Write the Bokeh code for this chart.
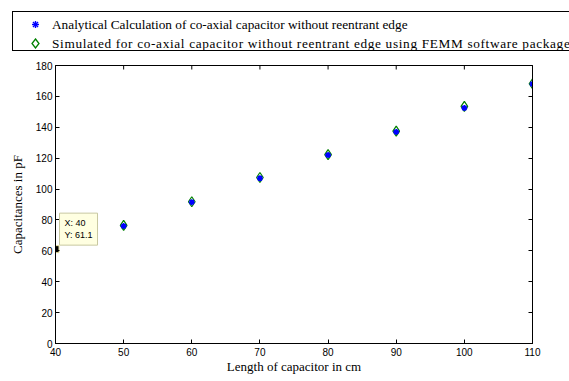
import math
from bokeh.plotting import figure
from bokeh.layouts import column
from bokeh.models import (ColumnDataSource, Range1d, LinearAxis, Label, FixedTicker, Div)
from bokeh.embed import file_html
from bokeh.resources import INLINE

# ---- data ----
lengths = [50, 60, 70, 80, 90, 100, 110]
analytical = [76.0, 91.5, 107.0, 122.0, 137.0, 152.5, 168.0]
simulated = [76.5, 91.8, 107.5, 122.3, 137.5, 153.5, 168.2]
tip_x = [40]
tip_y = [61.1]
x_ticks = [40, 50, 60, 70, 80, 90, 100, 110]
y_ticks = [0, 20, 40, 60, 80, 100, 120, 140, 160, 180]

label_a = "Analytical Calculation of co-axial capacitor without reentrant edge"
label_s = "Simulated for co-axial capacitor without reentrant edge using FEMM software package"

SERIF = "Liberation Serif"
SANS = "Liberation Sans"

X0, X1, Y0, Y1 = 40, 110, 0, 180
W = 569
TOP_H = 60
MAIN_H = 381 - TOP_H

# ---------------- main plot ----------------
p = figure(width=W, height=MAIN_H, output_backend="svg", toolbar_location=None,
           x_range=Range1d(X0, X1), y_range=Range1d(Y0, Y1),
           min_border_left=55, min_border_right=37, min_border_top=5,
           min_border_bottom=38)
p.background_fill_color = "white"
p.border_fill_color = "white"
p.outline_line_color = "black"
p.outline_line_width = 1
p.xgrid.visible = False
p.ygrid.visible = False

def style_axis(ax, show_labels=True):
    ax.axis_line_color = "black"
    ax.major_tick_in = 4
    ax.major_tick_out = 0
    ax.minor_tick_line_color = None
    ax.major_tick_line_color = "black"
    ax.major_label_text_font = SANS
    ax.major_label_text_font_size = "10px"
    ax.major_label_text_color = "black"
    ax.major_label_standoff = 3
    if not show_labels:
        ax.major_label_text_color = None
        ax.major_label_text_font_size = "1px"
        ax.major_label_standoff = 0

p.xaxis.ticker = FixedTicker(ticks=x_ticks)
p.yaxis.ticker = FixedTicker(ticks=y_ticks)
style_axis(p.xaxis[0])
style_axis(p.yaxis[0])
p.xaxis.major_label_standoff = 4
p.xaxis.axis_label = "Length of capacitor in cm"
p.yaxis.axis_label = "Capacitances in pF"
for ax in (p.xaxis[0], p.yaxis[0]):
    ax.axis_label_text_font = SERIF
    ax.axis_label_text_font_size = "13px"
    ax.axis_label_text_font_style = "normal"
    ax.axis_label_text_color = "black"
p.xaxis.axis_label_standoff = 0
p.yaxis.axis_label_standoff = 8

right_ax = LinearAxis(ticker=FixedTicker(ticks=y_ticks))
style_axis(right_ax, False)
p.add_layout(right_ax, "right")

# top-edge inward ticks (half of each dash is clipped by the frame)
p.scatter(x_ticks, [Y1] * len(x_ticks), marker="dash", angle=math.pi / 2,
          size=8, line_color="black", line_width=1)

src = ColumnDataSource(dict(x=lengths, a=analytical, s=simulated))

p.scatter("x", "s", source=src, marker="diamond", size=10, fill_color=None,
          line_color="#008000", line_width=1.2)
p.scatter("x", "a", source=src, marker="asterisk", size=6,
          line_color="#0000ff", line_width=1.6)
p.scatter("x", "a", source=src, marker="circle", size=3,
          fill_color="#0000ff", line_color="#0000ff")

# data tip
p.scatter(tip_x, tip_y, marker="square", size=7, fill_color="black",
          line_color="#e8e0a0", line_width=1)
tip = Label(x=tip_x[0], y=tip_y[0], x_offset=4, y_offset=4,
            text="X: %d\nY: %.1f" % (tip_x[0], tip_y[0]),
            text_font=SANS, text_font_size="9px", text_color="black",
            background_fill_color="#ffffe1", border_line_color="#c8c8a0",
            border_line_width=1, padding=5)
p.add_layout(tip)

# ---------------- legend strip (HTML) ----------------
star_svg = ('<svg width="9" height="9" viewBox="0 0 9 9" style="position:absolute;left:18px;top:5px">'
            '<g stroke="#0000ff" stroke-width="1.4">'
            '<line x1="4.5" y1="1" x2="4.5" y2="8"/><line x1="1" y1="4.5" x2="8" y2="4.5"/>'
            '<line x1="2" y1="2" x2="7" y2="7"/><line x1="7" y1="2" x2="2" y2="7"/></g>'
            '<circle cx="4.5" cy="4.5" r="1.8" fill="#0000ff"/></svg>')
diam_svg = ('<svg width="9" height="11" viewBox="0 0 9 11" style="position:absolute;left:18px;top:4px">'
            '<polygon points="4.5,1 8,5.5 4.5,10 1,5.5" fill="none" stroke="#008000" stroke-width="1.3"/></svg>')

row_style = "position:absolute;left:0;height:19px;width:700px;line-height:19px;"
txt_a = "position:absolute;left:39px;top:0;"
txt_s = "position:absolute;left:39px;top:0;letter-spacing:0.65px;"
html = (
    '<div style="position:relative;width:%dpx;height:%dpx;overflow:hidden;background:white;">'
    '<div style="position:absolute;left:12px;top:11px;width:%dpx;height:40px;'
    'border:1px solid black;border-right:none;overflow:hidden;white-space:nowrap;'
    'font-family:\'%s\';font-size:13.3px;color:black;background:white;">'
    '<div style="%stop:3px;">%s<span style="%s">%s</span></div>'
    '<div style="%stop:22px;">%s<span style="%s">%s</span></div>'
    '</div></div>'
) % (W, TOP_H, W - 12, SERIF,
     row_style, star_svg, txt_a, label_a,
     row_style, diam_svg, txt_s, label_s)

leg = Div(text=html, width=W, height=TOP_H, margin=0)

layout = column(leg, p, spacing=0)
open("out.html", "w").write(file_html(layout, INLINE))
